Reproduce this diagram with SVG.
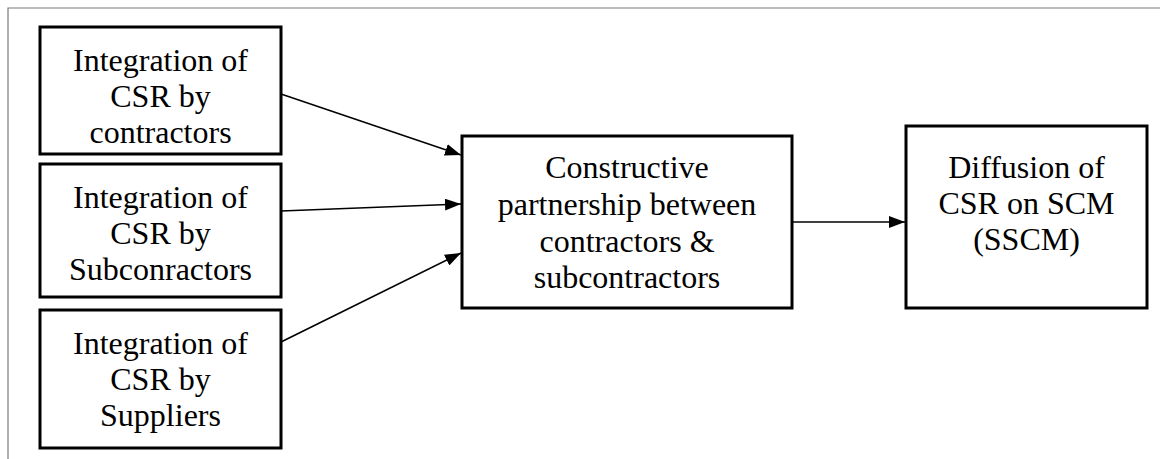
<svg xmlns="http://www.w3.org/2000/svg" width="1160" height="459" viewBox="0 0 1160 459">
<style>
.frame{fill:none;stroke:#7a7a7a;stroke-width:1.2}
.box{fill:#fff;stroke:#000;stroke-width:3}
.lbl{font-family:"Liberation Serif","Times New Roman",serif;font-size:32px;fill:#000;text-anchor:middle}
.conn{stroke:#000;stroke-width:1.6;fill:none;marker-end:url(#ah)}
</style>
<defs>
<marker id="ah" markerWidth="16" markerHeight="12" refX="16" refY="6" orient="auto" markerUnits="userSpaceOnUse">
<path d="M0,0 L16,6 L0,12 Z" fill="#000"/>
</marker>
</defs>
<rect width="1160" height="459" fill="#fff"/>
<path class="frame" d="M8,459 L8,8 L1160,8"/>
<g id="node-contractors">
<rect class="box" x="40" y="27" width="241" height="127"/>
<text class="lbl" x="160.5" y="71">Integration of</text>
<text class="lbl" x="160.5" y="107">CSR by</text>
<text class="lbl" x="160.5" y="143">contractors</text>
</g>
<g id="node-subcontractors">
<rect class="box" x="40" y="164" width="241" height="133"/>
<text class="lbl" x="160.5" y="208">Integration of</text>
<text class="lbl" x="160.5" y="244">CSR by</text>
<text class="lbl" x="160.5" y="280">Subconractors</text>
</g>
<g id="node-suppliers">
<rect class="box" x="40" y="310" width="241" height="138"/>
<text class="lbl" x="160.5" y="354">Integration of</text>
<text class="lbl" x="160.5" y="390">CSR by</text>
<text class="lbl" x="160.5" y="426">Suppliers</text>
</g>
<g id="node-partnership">
<rect class="box" x="462" y="136" width="330" height="172"/>
<text class="lbl" x="627" y="178">Constructive</text>
<text class="lbl" x="627" y="215">partnership between</text>
<text class="lbl" x="627" y="252">contractors &amp;</text>
<text class="lbl" x="627" y="288">subcontractors</text>
</g>
<g id="node-diffusion">
<rect class="box" x="906" y="126" width="241" height="182"/>
<text class="lbl" x="1026.5" y="178">Diffusion of</text>
<text class="lbl" x="1026.5" y="214">CSR on SCM</text>
<text class="lbl" x="1026.5" y="250">(SSCM)</text>
</g>
<g id="connectors">
<line class="conn" x1="281" y1="94" x2="461" y2="155"/>
<line class="conn" x1="281" y1="211" x2="461" y2="204"/>
<line class="conn" x1="281" y1="342" x2="461" y2="253"/>
<line class="conn" x1="792" y1="222" x2="905" y2="222"/>
</g>
</svg>
